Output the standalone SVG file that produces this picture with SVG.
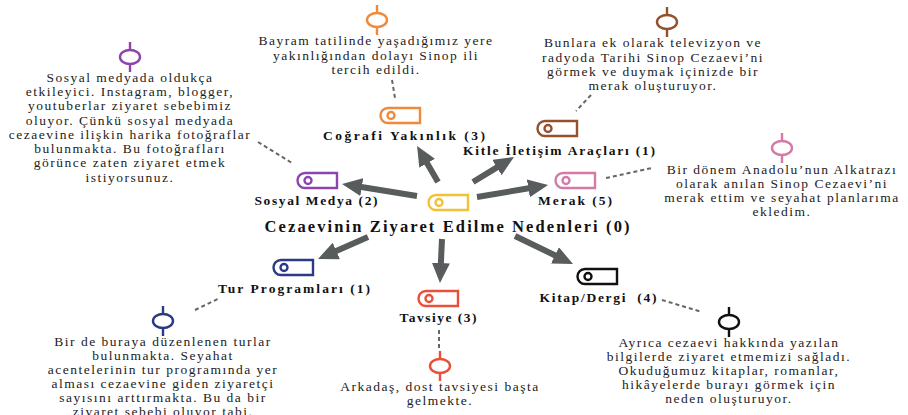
<svg xmlns="http://www.w3.org/2000/svg" width="908" height="415" viewBox="0 0 908 415">
<style>
.t{font-family:"Liberation Serif","Times New Roman",serif;font-size:13.5px;fill:#222;text-anchor:middle;letter-spacing:1.5px}
.l{font-family:"Liberation Serif","Times New Roman",serif;font-size:13.5px;font-weight:bold;fill:#111;text-anchor:middle}
.c{font-family:"Liberation Serif","Times New Roman",serif;font-size:16.5px;font-weight:bold;fill:#111;text-anchor:middle}
.ic{fill:none;stroke-width:2.4}
.pin{fill:none;stroke-width:2.4}
.arr{stroke:#585c5c;stroke-width:6;fill:none;marker-end:url(#ah)}
.dash{stroke:#666;stroke-width:2;stroke-dasharray:4 3;fill:none}
</style>
<defs>
<marker id="ah" markerUnits="userSpaceOnUse" markerWidth="22" markerHeight="20" refX="2" refY="9" orient="auto">
<path d="M0,0 L20,9 L0,18 Z" fill="#585c5c"/>
</marker>
<g id="icon"><path d="M8,0 H40 V15 H8 A7.5,7.5 0 0 1 8,0 Z"/><circle cx="11" cy="7.5" r="3.5"/></g>
<g id="pinS"><ellipse cx="0" cy="0" rx="10" ry="7"/><path d="M0,-15 V-7 M0,7 V15"/></g>
</defs>
<g id="connectors">
<line class="arr" x1="417" y1="196" x2="359.8" y2="186.8"/>
<line class="arr" x1="438" y1="182" x2="426.1" y2="161.5"/>
<line class="arr" x1="473" y1="182" x2="498.6" y2="166.4"/>
<line class="arr" x1="477" y1="197" x2="530.3" y2="188"/>
<line class="arr" x1="368" y1="237" x2="334.5" y2="251.7"/>
<line class="arr" x1="442" y1="239" x2="440.8" y2="265"/>
<line class="arr" x1="515" y1="236" x2="556.8" y2="256.2"/>
<line class="dash" x1="258" y1="142" x2="292" y2="163"/>
<line class="dash" x1="392" y1="80" x2="395" y2="98"/>
<line class="dash" x1="591" y1="95" x2="576" y2="111"/>
<line class="dash" x1="606" y1="178" x2="652" y2="168"/>
<line class="dash" x1="195" y1="310" x2="220" y2="298"/>
<line class="dash" x1="439" y1="330" x2="439" y2="350"/>
<line class="dash" x1="662" y1="300" x2="702" y2="312"/>
</g>
<g id="center">
<use href="#icon" class="ic" stroke="#f0c23a" x="428" y="195"/>
<text class="c" x="447" y="232" textLength="365" lengthAdjust="spacing">Cezaevinin Ziyaret Edilme Nedenleri (0)</text>
</g>
<g id="sosyal">
<use href="#icon" class="ic" stroke="#8e44ad" x="297" y="173"/>
<text class="l" x="316" y="205" textLength="123" lengthAdjust="spacing">Sosyal Medya (2)</text>
</g>
<g id="cografi">
<use href="#icon" class="ic" stroke="#f08a3a" x="380" y="108"/>
<text class="l" x="404" y="140" textLength="162" lengthAdjust="spacing">Coğrafi Yakınlık (3)</text>
</g>
<g id="kitle">
<use href="#icon" class="ic" stroke="#93522e" x="537" y="121"/>
<text class="l" x="559" y="155" textLength="192" lengthAdjust="spacing">Kitle İletişim Araçları (1)</text>
</g>
<g id="merak">
<use href="#icon" class="ic" stroke="#d47aa6" x="555" y="173"/>
<text class="l" x="575" y="205" textLength="74" lengthAdjust="spacing">Merak (5)</text>
</g>
<g id="tur">
<use href="#icon" class="ic" stroke="#2b3a87" x="273" y="260"/>
<text class="l" x="294" y="293" textLength="152" lengthAdjust="spacing">Tur Programları (1)</text>
</g>
<g id="tavsiye">
<use href="#icon" class="ic" stroke="#e8503a" x="418" y="291"/>
<text class="l" x="438" y="322" textLength="77" lengthAdjust="spacing">Tavsiye (3)</text>
</g>
<g id="kitap">
<use href="#icon" class="ic" stroke="#111" x="577" y="269"/>
<text class="l" x="598" y="302" xml:space="preserve" textLength="117" lengthAdjust="spacing">Kitap/Dergi  (4)</text>
</g>
<g id="note-sosyal">
<use href="#pinS" class="pin" stroke="#8e44ad" x="130" y="57"/>
<text class="t" x="130" y="82">Sosyal medyada oldukça</text>
<text class="t" x="130" y="96">etkileyici. Instagram, blogger,</text>
<text class="t" x="130" y="110">youtuberlar ziyaret sebebimiz</text>
<text class="t" x="130" y="125">oluyor. Çünkü sosyal medyada</text>
<text class="t" x="130" y="139">cezaevine ilişkin harika fotoğraflar</text>
<text class="t" x="130" y="153">bulunmakta. Bu fotoğrafları</text>
<text class="t" x="130" y="167">görünce zaten ziyaret etmek</text>
<text class="t" x="130" y="182">istiyorsunuz.</text>
</g>
<g id="note-cografi">
<use href="#pinS" class="pin" stroke="#f08a3a" x="377" y="20"/>
<text class="t" x="376" y="45">Bayram tatilinde yaşadığımız yere</text>
<text class="t" x="376" y="60">yakınlığından dolayı Sinop ili</text>
<text class="t" x="376" y="74">tercih edildi.</text>
</g>
<g id="note-kitle">
<use href="#pinS" class="pin" stroke="#93522e" x="667" y="22"/>
<text class="t" x="653" y="47">Bunlara ek olarak televizyon ve</text>
<text class="t" x="653" y="62">radyoda Tarihi Sinop Cezaevi’ni</text>
<text class="t" x="653" y="76">görmek ve duymak içinizde bir</text>
<text class="t" x="653" y="90">merak oluşturuyor.</text>
</g>
<g id="note-merak">
<use href="#pinS" class="pin" stroke="#d47aa6" x="782" y="148"/>
<text class="t" x="782" y="174">Bir dönem Anadolu’nun Alkatrazı</text>
<text class="t" x="782" y="188">olarak anılan Sinop Cezaevi’ni</text>
<text class="t" x="782" y="202">merak ettim ve seyahat planlarıma</text>
<text class="t" x="782" y="216">ekledim.</text>
</g>
<g id="note-tur">
<use href="#pinS" class="pin" stroke="#2b3a87" x="163" y="321"/>
<text class="t" x="163" y="346">Bir de buraya düzenlenen turlar</text>
<text class="t" x="163" y="360">bulunmakta. Seyahat</text>
<text class="t" x="163" y="374">acentelerinin tur programında yer</text>
<text class="t" x="163" y="388">alması cezaevine giden ziyaretçi</text>
<text class="t" x="163" y="402">sayısını arttırmakta. Bu da bir</text>
<text class="t" x="163" y="416">ziyaret sebebi oluyor tabi.</text>
</g>
<g id="note-tavsiye">
<use href="#pinS" class="pin" stroke="#e8503a" x="440" y="366"/>
<text class="t" x="440" y="391">Arkadaş, dost tavsiyesi başta</text>
<text class="t" x="440" y="405">gelmekte.</text>
</g>
<g id="note-kitap">
<use href="#pinS" class="pin" stroke="#111" x="729" y="322"/>
<text class="t" x="729" y="347">Ayrıca cezaevi hakkında yazılan</text>
<text class="t" x="729" y="361">bilgilerde ziyaret etmemizi sağladı.</text>
<text class="t" x="729" y="375">Okuduğumuz kitaplar, romanlar,</text>
<text class="t" x="729" y="389">hikâyelerde burayı görmek için</text>
<text class="t" x="729" y="403">neden oluşturuyor.</text>
</g>
</svg>
